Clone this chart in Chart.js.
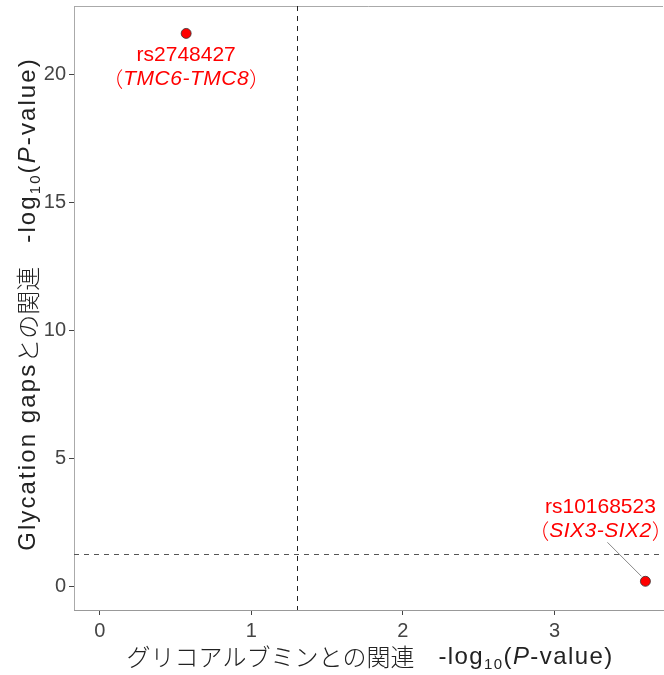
<!DOCTYPE html>
<html>
<head>
<meta charset="utf-8">
<style>
  html, body { margin: 0; padding: 0; background: #fff; }
  #wrap { width: 664px; height: 675px; }
</style>
<script src="https://cdn.jsdelivr.net/npm/chart.js@4/dist/chart.umd.min.js"></script>
</head>
<body>
<div id="wrap"><canvas id="volcano"></canvas></div>
<script>
// データ: SNP と遺伝子、各軸の -log10(P)
const snpIds = ['rs2748427', 'rs10168523'];
const geneNames = ['TMC6-TMC8', 'SIX3-SIX2'];
const xValues = [0.57, 3.60];   // グリコアルブミンとの関連
const yValues = [21.6, 0.22];   // Glycation gaps との関連
const xTicks = [0, 1, 2, 3];
const yTicks = [0, 5, 10, 15, 20];
const threshold = 1.301;        // -log10(0.05)

const LATIN = '"Liberation Sans", "Noto Sans CJK JP", sans-serif';
const CJK = '"Noto Sans CJK JP", sans-serif';

// 複数スタイルのテキスト (斜体・下付き・和文)
function drawRuns(ctx, runs, x, y, size, color, align, spacing) {
  ctx.save();
  ctx.fillStyle = color;
  ctx.textBaseline = 'middle';
  ctx.textAlign = 'left';
  const setFont = r => {
    const s = r.sub ? Math.round(size * 0.62) : size;
    ctx.font = (r.italic ? 'italic ' : '') + (r.cjk ? '300 ' : '') + s + 'px ' + (r.cjk ? CJK : LATIN);
    ctx.letterSpacing = r.cjk ? '0px' : (spacing || 0) + 'px';
  };
  let total = 0;
  runs.forEach(r => { setFont(r); total += ctx.measureText(r.text).width; });
  let cx = align === 'center' ? x - total / 2 : x;
  runs.forEach(r => {
    setFont(r);
    ctx.fillText(r.text, cx, r.sub ? y + size * 0.32 : y);
    cx += ctx.measureText(r.text).width;
  });
  ctx.restore();
}

const decorPlugin = {
  id: 'decor',
  beforeDatasetsDraw(chart) {
    const { ctx, chartArea: a, scales: { x, y } } = chart;
    ctx.save();
    // 枠線 (上・左)
    ctx.strokeStyle = '#aaa';
    ctx.lineWidth = 1;
    ctx.beginPath();
    ctx.moveTo(a.left + 0.5, a.bottom);
    ctx.lineTo(a.left + 0.5, a.top + 0.5);
    ctx.lineTo(a.right, a.top + 0.5);
    ctx.stroke();
    // 有意水準の破線
    ctx.setLineDash([5, 5]);
    const px = Math.round(x.getPixelForValue(threshold)) + 0.5;
    const py = Math.round(y.getPixelForValue(threshold)) + 0.5;
    ctx.strokeStyle = '#222';
    ctx.beginPath();
    ctx.moveTo(px, a.top); ctx.lineTo(px, a.bottom);
    ctx.stroke();
    ctx.strokeStyle = '#555';
    ctx.beginPath();
    ctx.moveTo(a.left, py); ctx.lineTo(a.right, py);
    ctx.stroke();
    ctx.restore();

    // SNP ラベル
    const labelOffsets = [[0, 22], [-45, -74]];
    snpIds.forEach((id, i) => {
      const ptx = x.getPixelForValue(xValues[i]);
      const pty = y.getPixelForValue(yValues[i]);
      const lx = ptx + labelOffsets[i][0];
      const ly = pty + labelOffsets[i][1];
      if (i === 1) {
        ctx.save();
        ctx.strokeStyle = '#888';
        ctx.lineWidth = 1;
        ctx.beginPath();
        ctx.moveTo(ptx - 38, pty - 39);
        ctx.lineTo(ptx - 4, pty - 5);
        ctx.stroke();
        ctx.restore();
      }
      drawRuns(ctx, [{ text: id }], lx, ly, 21, '#ff0000', 'center', 0);
      drawRuns(ctx, [{ text: '（', cjk: true }, { text: geneNames[i], italic: true }, { text: '）', cjk: true }],
        lx, ly + 24, 21, '#ff0000', 'center', 0.5);
    });
  },
  afterDraw(chart) {
    const { ctx } = chart;
    // 軸タイトル
    drawRuns(ctx, [
      { text: 'グリコアルブミンとの関連　', cjk: true }, { text: '-log' }, { text: '10', sub: true },
      { text: '(' }, { text: 'P', italic: true }, { text: '-value)' }
    ], 370, 657, 24, '#222', 'center', 1.4);
    ctx.save();
    ctx.translate(28, 304);
    ctx.rotate(-Math.PI / 2);
    drawRuns(ctx, [
      { text: 'Glycation gaps' }, { text: 'との関連　', cjk: true }, { text: '-log' }, { text: '10', sub: true },
      { text: '(' }, { text: 'P', italic: true }, { text: '-value)' }
    ], 0, 0, 24, '#222', 'center', 2.1);
    ctx.restore();
  }
};

const ctx = document.getElementById('volcano').getContext('2d');
new Chart(ctx, {
  type: 'scatter',
  data: {
    datasets: [{
      data: xValues.map((v, i) => ({ x: v, y: yValues[i] })),
      backgroundColor: '#ff0000',
      borderColor: '#333',
      borderWidth: 0.8,
      pointRadius: 5,
      pointHoverRadius: 5
    }]
  },
  options: {
    responsive: true,
    maintainAspectRatio: false,
    animation: false,
    layout: { autoPadding: false, padding: { top: 6, right: 1, left: 0, bottom: 0 } },
    plugins: { legend: { display: false }, tooltip: { enabled: false } },
    scales: {
      x: {
        type: 'linear',
        min: -0.17, max: 3.716,
        afterBuildTicks: s => { s.ticks = xTicks.map(v => ({ value: v })); },
        afterFit: s => { s.height = 65; s.paddingLeft = 0; s.paddingRight = 0; },
        border: { display: true, color: '#999' },
        grid: { drawOnChartArea: false, drawTicks: true, tickLength: 5, color: '#444' },
        ticks: { color: '#444', font: { family: LATIN, size: 20 }, padding: 4 }
      },
      y: {
        type: 'linear',
        min: -0.9, max: 22.67,
        afterBuildTicks: s => { s.ticks = yTicks.map(v => ({ value: v })); },
        afterFit: s => { s.width = 74; s.paddingTop = 0; s.paddingBottom = 0; },
        border: { display: true, color: '#999' },
        grid: { drawOnChartArea: false, drawTicks: true, tickLength: 5, color: '#444' },
        ticks: { color: '#444', font: { family: LATIN, size: 20 }, padding: 3 }
      }
    }
  },
  plugins: [decorPlugin]
});
</script>
</body>
</html>
